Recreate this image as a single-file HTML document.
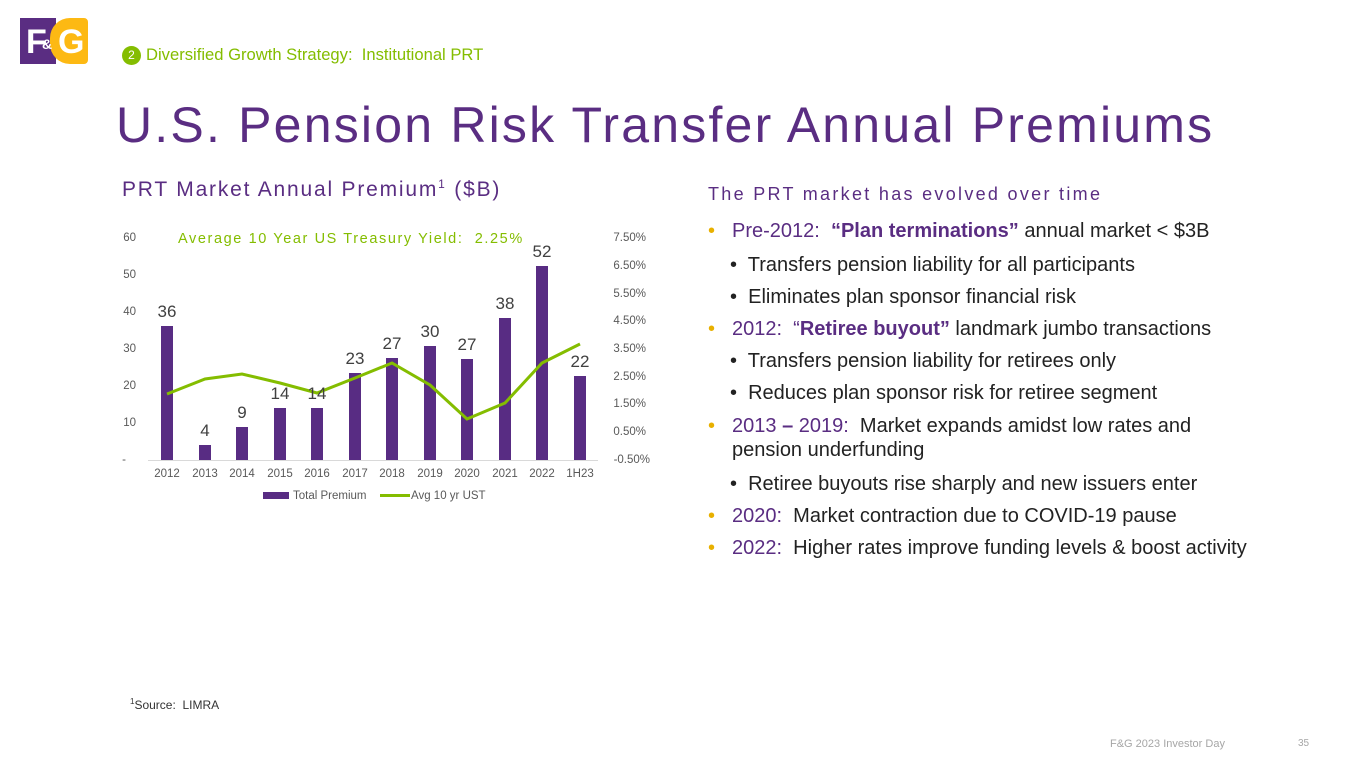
<!DOCTYPE html>
<html><head><meta charset="utf-8"><style>
body{margin:0;width:1365px;height:768px;background:#fff;font-family:"Liberation Sans",sans-serif;position:relative;overflow:hidden}
.a{position:absolute;white-space:nowrap}
.p{color:#5a2d82}.g{color:#84bd00}
.b{position:absolute;left:708px;font-size:20px;color:#222;white-space:nowrap}
.b .d{color:#e8b000;position:absolute;left:0}
</style></head><body>
<div class="a" style="left:20px;top:18px;width:36px;height:46px;background:#5a2d82"></div>
<div class="a" style="left:26px;top:22px;color:#fff;font-weight:bold;font-size:34px;line-height:40px">F</div>
<div class="a" style="left:50px;top:18px;width:38px;height:46px;background:#fdb913;border-radius:20px 4px 4px 20px"></div>
<div class="a" style="left:58px;top:22px;color:#fff;font-weight:bold;font-size:34px;line-height:40px">G</div>
<div class="a" style="left:42px;top:36px;color:#fff;font-weight:bold;font-size:14px">&amp;</div>
<div class="a" style="left:122px;top:46px;width:19px;height:19px;border-radius:50%;background:#84bd00;color:#fff;font-size:12px;text-align:center;line-height:19px">2</div>
<div class="a g" style="left:146px;top:45px;font-size:16.6px">Diversified Growth Strategy:&nbsp; Institutional PRT</div>
<div class="a p" style="left:116px;top:96px;font-size:50px;letter-spacing:2.2px">U.S. Pension Risk Transfer Annual Premiums</div>
<div class="a p" style="left:122px;top:177px;font-size:21px;letter-spacing:1.8px">PRT Market Annual Premium<sup style="font-size:12px">1</sup> ($B)</div>
<div class="a p" style="left:708px;top:184px;font-size:18px;letter-spacing:2.3px">The PRT market has evolved over time</div>
<svg class="a" style="left:0;top:0" width="700" height="520" font-family="Liberation Sans" >
<g font-size="11.5" fill="#595959" text-anchor="end">
<text x="136" y="241">60</text><text x="136" y="278">50</text><text x="136" y="315">40</text><text x="136" y="352">30</text><text x="136" y="389">20</text><text x="136" y="426">10</text><text x="126" y="463">-</text>
</g>
<g font-size="11.5" fill="#595959" text-anchor="end">
<text x="646" y="241">7.50%</text><text x="646" y="269">6.50%</text><text x="646" y="297">5.50%</text><text x="646" y="324">4.50%</text><text x="646" y="352">3.50%</text><text x="646" y="380">2.50%</text><text x="646" y="407">1.50%</text><text x="646" y="435">0.50%</text><text x="650" y="463">-0.50%</text>
</g>
<line x1="148" y1="460.5" x2="598" y2="460.5" stroke="#d9d9d9"/>
<g fill="#582c83">
<rect x="161" y="326" width="12" height="134"/><rect x="199" y="445" width="12" height="15"/><rect x="236" y="427" width="12" height="33"/><rect x="274" y="408" width="12" height="52"/><rect x="311" y="408" width="12" height="52"/><rect x="349" y="373" width="12" height="87"/><rect x="386" y="358" width="12" height="102"/><rect x="424" y="346" width="12" height="114"/><rect x="461" y="359" width="12" height="101"/><rect x="499" y="318" width="12" height="142"/><rect x="536" y="266" width="12" height="194"/><rect x="574" y="376" width="12" height="84"/>
</g>
<polyline fill="none" stroke="#84bd00" stroke-width="3" points="167,394 205,379 242,374 280,383 317,393 355,378 392,363 430,385 467,419 505,403 542,363 580,344"/>
<g font-size="17" fill="#404040" text-anchor="middle">
<text x="167" y="317">36</text><text x="205" y="436">4</text><text x="242" y="418">9</text><text x="280" y="399">14</text><text x="317" y="399">14</text><text x="355" y="364">23</text><text x="392" y="349">27</text><text x="430" y="337">30</text><text x="467" y="350">27</text><text x="505" y="309">38</text><text x="542" y="257">52</text><text x="580" y="367">22</text>
</g>
<g font-size="11.5" fill="#595959" text-anchor="middle">
<text x="167" y="477">2012</text><text x="205" y="477">2013</text><text x="242" y="477">2014</text><text x="280" y="477">2015</text><text x="317" y="477">2016</text><text x="355" y="477">2017</text><text x="392" y="477">2018</text><text x="430" y="477">2019</text><text x="467" y="477">2020</text><text x="505" y="477">2021</text><text x="542" y="477">2022</text><text x="580" y="477">1H23</text>
</g>
<rect x="263" y="492" width="26" height="7" fill="#582c83"/>
<text x="293" y="499" font-size="11.5" fill="#595959">Total Premium</text>
<line x1="380" y1="495.5" x2="410" y2="495.5" stroke="#84bd00" stroke-width="3"/>
<text x="411" y="499" font-size="11.5" fill="#595959">Avg 10 yr UST</text>
<text x="178" y="243" font-size="14.5" fill="#84bd00" letter-spacing="1.6">Average 10 Year US Treasury Yield:&nbsp; 2.25%</text>
</svg>
<div class="b" style="top:220px"><span class="d">•</span><span style="margin-left:24px"><span class="p">Pre-2012:&nbsp; <b>“Plan terminations”</b></span> annual market &lt; $3B</span></div>
<div class="b" style="top:254px;left:730px">•&nbsp; Transfers pension liability for all participants</div>
<div class="b" style="top:286px;left:730px">•&nbsp; Eliminates plan sponsor financial risk</div>
<div class="b" style="top:318px"><span class="d">•</span><span style="margin-left:24px"><span class="p">2012:&nbsp; “<b>Retiree buyout”</b></span> landmark jumbo transactions</span></div>
<div class="b" style="top:350px;left:730px">•&nbsp; Transfers pension liability for retirees only</div>
<div class="b" style="top:382px;left:730px">•&nbsp; Reduces plan sponsor risk for retiree segment</div>
<div class="b" style="top:415px"><span class="d">•</span><span style="margin-left:24px"><span class="p">2013 <b>–</b> 2019:</span>&nbsp; Market expands amidst low rates and</span></div>
<div class="b" style="top:439px;left:732px">pension underfunding</div>
<div class="b" style="top:473px;left:730px">•&nbsp; Retiree buyouts rise sharply and new issuers enter</div>
<div class="b" style="top:505px"><span class="d">•</span><span style="margin-left:24px"><span class="p">2020:</span>&nbsp; Market contraction due to COVID-19 pause</span></div>
<div class="b" style="top:537px"><span class="d">•</span><span style="margin-left:24px"><span class="p">2022:</span>&nbsp; Higher rates improve funding levels &amp; boost activity</span></div>
<div class="a" style="left:130px;top:697px;font-size:12px;color:#333"><sup style="font-size:8px">1</sup>Source:&nbsp; LIMRA</div>
<div class="a" style="left:1110px;top:738px;font-size:11px;color:#a6a6a6">F&amp;G 2023 Investor Day</div>
<div class="a" style="left:1298px;top:738px;font-size:10px;color:#a6a6a6">35</div>
</body></html>
